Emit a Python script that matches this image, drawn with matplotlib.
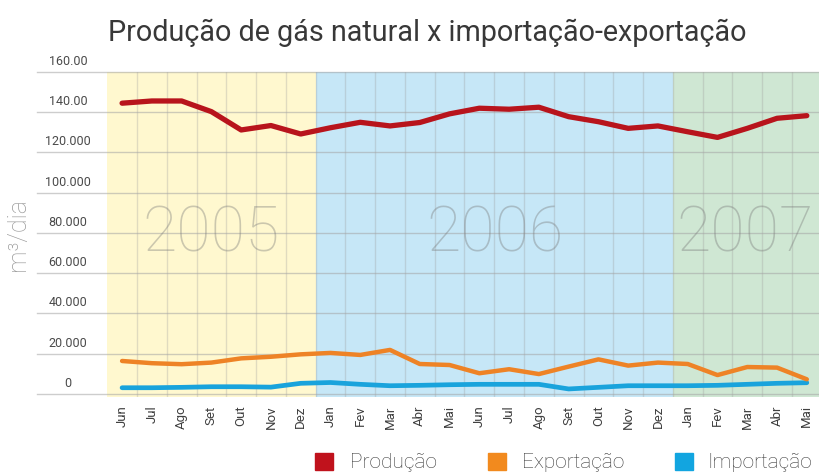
import matplotlib
matplotlib.use("Agg")
import matplotlib.pyplot as plt
from matplotlib.patches import Rectangle

plt.rcParams['font.family'] = ['Roboto', 'DejaVu Sans']

months = ["Jun", "Jul", "Ago", "Set", "Out", "Nov", "Dez",
          "Jan", "Fev", "Mar", "Abr", "Mai", "Jun", "Jul", "Ago", "Set", "Out", "Nov", "Dez",
          "Jan", "Fev", "Mar", "Abr", "Mai"]
producao = [144.5, 145.6, 145.6, 140.3, 131.2, 133.4, 129.2,
            132.3, 135.0, 133.2, 134.9, 139.2, 142.0, 141.5, 142.5, 137.8, 135.3, 132.0, 133.2,
            130.3, 127.5, 132.0, 137.0, 138.3]
exportacao = [16.4, 15.3, 14.8, 15.6, 17.7, 18.5, 19.7,
              20.4, 19.4, 21.9, 14.9, 14.4, 10.3, 12.3, 9.9, 13.6, 17.2, 14.1, 15.6,
              14.9, 9.4, 13.4, 13.1, 7.3]
importacao = [3.1, 3.1, 3.3, 3.6, 3.6, 3.4, 5.3,
              5.7, 4.8, 4.1, 4.3, 4.6, 4.8, 4.8, 4.8, 2.5, 3.3, 4.1, 4.1,
              4.1, 4.3, 4.8, 5.3, 5.6]
ytick_values = [0, 20, 40, 60, 80, 100, 120, 140, 160]
ytick_labels = ["0", "20.000", "40.000", "60.000", "80.000", "100.000", "120.000", "140.00", "160.00"]
years = ["2005", "2006", "2007"]
year_spans = [(-0.5, 6.5), (6.5, 18.5), (18.5, 23.5)]
year_text_pos = [3.0, 12.54, 20.92]
series_names = ["Produção", "Exportação", "Importação"]

W, H = 820, 473
fig = plt.figure(figsize=(W / 100, H / 100), dpi=100)
fig.patch.set_facecolor('white')

def fx(px):
    return px / W

def fy(py):
    return 1 - py / H

ax_left, ax_right, ax_top, ax_bottom = 107.2, 821.7, 72, 397
ax = fig.add_axes([fx(ax_left), fy(ax_bottom), fx(ax_right - ax_left), (ax_bottom - ax_top) / H])
ax.set_xlim(-0.5, 23.5)
ax.set_ylim(-1.5, 160)
for s in ax.spines.values():
    s.set_visible(False)

bg_colors = ['#fff8cf', '#c6e7f7', '#cfe7d3']
for (a, b), c in zip(year_spans, bg_colors):
    ax.axvspan(a, b, color=c, zorder=0, lw=0)

# grid lines
for i in range(len(months) - 1):
    ax.axvline(i + 0.5, color='#9a9a9a', alpha=0.3, lw=1.0, zorder=1)
ytrans = ax.get_yaxis_transform()
grid_left = (37 - ax_left) / (ax_right - ax_left)
for v in ytick_values:
    ax.plot([grid_left, 1], [v, v], transform=ytrans, color='#a5a5a5', alpha=0.55,
            lw=1.0, zorder=1, clip_on=False)

# tick labels on the left (above gridlines)
label_x = (68 - ax_left) / (ax_right - ax_left)
for v, t in zip(ytick_values, ytick_labels):
    ax.text(label_x, v + 2.0, t, transform=ytrans, ha='center', va='bottom',
            fontsize=9, color='#4a4a4a')

# year labels
for yr, xp in zip(years, year_text_pos):
    ax.text(xp, 79.3, yr, ha='center', va='center', fontsize=45, fontweight='light',
            color='#777777', alpha=0.38, zorder=2)

x = list(range(len(months)))
ax.plot(x, producao, color='#b8141c', lw=3.8, zorder=4, solid_capstyle='round', solid_joinstyle='round')
ax.plot(x, exportacao, color='#ee8326', lw=3.2, zorder=4, solid_capstyle='round', solid_joinstyle='round')
ax.plot(x, importacao, color='#19a3dc', lw=3.4, zorder=3, solid_capstyle='round', solid_joinstyle='round')

ax.set_xticks(x)
ax.set_xticklabels(months, rotation=90, fontsize=9.5, color='#404040')
ax.tick_params(axis='x', length=0, pad=6)
ax.set_yticks([])

# y label
fig.text(fx(18), fy(235), "m³/dia", rotation=90, ha='center', va='center',
         fontsize=18, fontweight='light', color='#9a9a9a')

# title
fig.text(fx(108), fy(33), "Produção de gás natural x importação-exportação",
         ha='left', va='center', fontsize=20.7, color='#383838')

# legend
leg_colors = ['#c0121c', '#f28a1e', '#12a5e0']
sq_x = [315, 488, 675]
txt_x = [350, 522, 708]
for name, c, sx, tx in zip(series_names, leg_colors, sq_x, txt_x):
    fig.patches.append(Rectangle((fx(sx), fy(470)), 18 / W, 17 / H,
                                 transform=fig.transFigure, color=c, figure=fig))
    fig.text(fx(tx), fy(462), name, ha='left', va='center', fontsize=15,
             fontweight='light', color='#3a3a3a')

fig.savefig("out.png", dpi=100)
